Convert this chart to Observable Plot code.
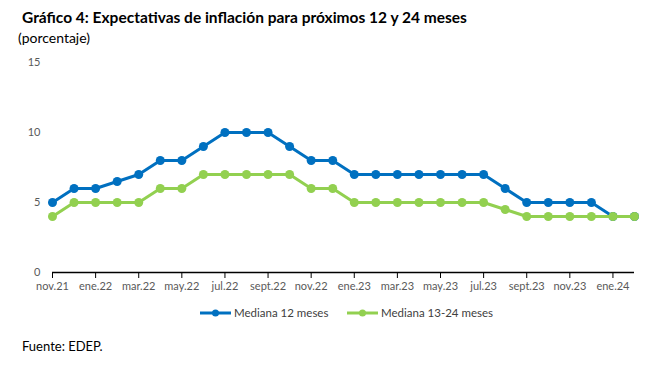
<!DOCTYPE html>
<html><head><meta charset="utf-8">
<script src="https://cdn.jsdelivr.net/npm/d3@7"></script>
<script src="https://cdn.jsdelivr.net/npm/@observablehq/plot@0.6"></script>
<style>
body{margin:0;background:#fff;font-family:Lato,"Open Sans",sans-serif;width:668px;height:366px;position:relative;overflow:hidden}
.t{position:absolute;left:22px;top:8px;font-size:15.5px;font-weight:bold;color:#000}
.s{position:absolute;left:18px;top:29px;font-size:14px;color:#000}
.f{position:absolute;left:22px;top:338px;font-size:13px;color:#000}
#chart{position:absolute;left:0;top:50px}
.lg{position:absolute;top:306px;font-size:11.5px;color:#404040;display:flex;align-items:center}
.lg svg{margin-right:2px}
</style></head><body>
<div class="t">Gráfico 4: Expectativas de inflación para próximos 12 y 24 meses</div>
<div class="s">(porcentaje)</div>
<div id="chart"></div>
<div class="lg" style="left:199px"><svg width="33" height="10"><line x1="1" y1="5" x2="32" y2="5" stroke="#0070C0" stroke-width="3"/><circle cx="16.5" cy="5" r="3.5" fill="#0070C0"/></svg>Mediana 12 meses</div>
<div class="lg" style="left:346px"><svg width="33" height="10"><line x1="1" y1="5" x2="32" y2="5" stroke="#92D050" stroke-width="3"/><circle cx="16.5" cy="5" r="3.5" fill="#92D050"/></svg>Mediana 13-24 meses</div>
<div class="f">Fuente: EDEP.</div>
<script>
const months = ["nov.21","dic.21","ene.22","feb.22","mar.22","abr.22","may.22","jun.22","jul.22","ago.22","sept.22","oct.22","nov.22","dic.22","ene.23","feb.23","mar.23","abr.23","may.23","jun.23","jul.23","ago.23","sept.23","oct.23","nov.23","dic.23","ene.24","feb.24"];
const mediana12 = [5,6,6,6.5,7,8,8,9,10,10,10,9,8,8,7,7,7,7,7,7,7,6,5,5,5,5,4,4];
const mediana1324 = [4,5,5,5,5,6,6,7,7,7,7,7,6,6,5,5,5,5,5,5,5,4.5,4,4,4,4,4,4];
const yTicks = [0,5,10,15];

const idx = months.map((m,i)=>i);
const tickIdx = idx.filter(i=>i%2===0);
const d12 = months.map((m,i)=>({i, v: mediana12[i]}));
const d24 = months.map((m,i)=>({i, v: mediana1324[i]}));

const chart = Plot.plot({
  width: 668, height: 250,
  marginLeft: 52, marginRight: 34, marginTop: 12, marginBottom: 28,
  style: {fontFamily: "Lato, 'Open Sans', sans-serif", fontSize: "11px", color: "#595959"},
  x: {type: "linear", domain: [0, months.length - 1]},
  y: {domain: [0, 15]},
  marks: [
    Plot.axisY({ticks: yTicks, tickSize: 0, tickPadding: 12, label: null, fontSize: 11}),
    Plot.axisX({ticks: tickIdx, tickFormat: i => months[i], tickSize: 6, tickPadding: 4, label: null, stroke: "#000", fontSize: 11}),
    Plot.ruleY([0], {stroke: "#000", strokeWidth: 1.5}),
    Plot.line(d12, {x: "i", y: "v", stroke: "#0070C0", strokeWidth: 3}),
    Plot.dot(d12, {x: "i", y: "v", fill: "#0070C0", r: 4.5}),
    Plot.line(d24, {x: "i", y: "v", stroke: "#92D050", strokeWidth: 3}),
    Plot.dot(d24, {x: "i", y: "v", fill: "#92D050", r: 4.5})
  ]
});
document.getElementById("chart").appendChild(chart);
</script>
</body></html>
